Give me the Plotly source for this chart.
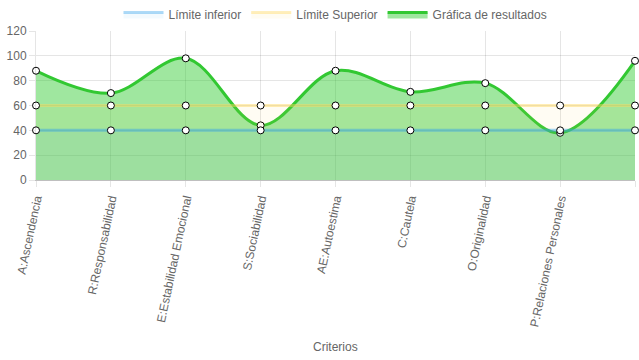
import plotly.graph_objects as go

categories = ["A:Ascendencia", "R:Responsabilidad", "E:Estabilidad Emocional", "S:Sociabilidad",
              "AE:Autoestima", "C:Cautela", "O:Originalidad", "P:Relaciones Personales", "V:Vigor"]
lower_limit = [40, 40, 40, 40, 40, 40, 40, 40, 40]
upper_limit = [60, 60, 60, 60, 60, 60, 60, 60, 60]
results = [88, 70, 98, 44, 88, 71, 78, 38, 96]

x_idx = list(range(len(categories)))
marker = dict(size=7, color="white", line=dict(color="black", width=1))

GREEN_LINE = "rgb(50,200,50)"
GREEN_FILL = "rgba(50,205,50,0.47)"
YEL_LINE = "rgba(255,215,90,0.45)"
YEL_FILL = "rgba(255,215,90,0.07)"
BLUE_LINE = "rgba(54,162,235,0.45)"
BLUE_FILL = "rgba(54,162,235,0.07)"

fig = go.Figure()
fig.add_trace(go.Scatter(
    x=x_idx, y=results, name="Gráfica de resultados", mode="lines+markers",
    line=dict(color=GREEN_LINE, width=3, shape="spline", smoothing=1.0),
    fill="tozeroy", fillcolor=GREEN_FILL, marker=marker, showlegend=False, cliponaxis=False))
fig.add_trace(go.Scatter(
    x=x_idx, y=upper_limit, name="Límite Superior", mode="lines+markers",
    line=dict(color=YEL_LINE, width=3),
    fill="tozeroy", fillcolor=YEL_FILL, marker=marker, showlegend=False, cliponaxis=False))
fig.add_trace(go.Scatter(
    x=x_idx, y=lower_limit, name="Límite inferior", mode="lines+markers",
    line=dict(color=BLUE_LINE, width=3),
    fill="tozeroy", fillcolor=BLUE_FILL, marker=marker, showlegend=False, cliponaxis=False))

# legend entries (box style)
for name, lc, fc, rank in [("Límite inferior", "rgba(54,162,235,0.4)", "rgba(54,162,235,0.06)", 1),
                           ("Límite Superior", "rgba(255,215,90,0.4)", "rgba(255,215,90,0.08)", 2),
                           ("Gráfica de resultados", GREEN_LINE, GREEN_FILL, 3)]:
    fig.add_trace(go.Scatter(x=[None], y=[None], name=name, mode="lines", fill="toself",
                             line=dict(color=lc, width=3), fillcolor=fc, legendrank=rank))

fig.update_layout(
    width=639, height=360,
    margin=dict(l=36, r=4, t=31, b=180, autoexpand=False),
    paper_bgcolor="white", plot_bgcolor="white",
    font=dict(family="Liberation Sans, Arial, sans-serif", size=12, color="#666"),
    legend=dict(orientation="h", x=0.5, xanchor="center", y=1.0, yanchor="top",
                yref="container", font=dict(size=12, color="#666"),
                bgcolor="rgba(0,0,0,0)", itemwidth=40),
    showlegend=True,
    annotations=[dict(text="Criterios", xref="paper", x=0.5, yref="paper", y=-1.121,
                      yanchor="middle", showarrow=False, font=dict(size=12, color="#666"))],
)
fig.update_xaxes(
    range=[0, 8], tickmode="array", tickvals=x_idx, ticktext=categories, tickangle=-78,
    automargin=False,
    showgrid=True, gridcolor="rgba(0,0,0,0.1)", gridwidth=1,
    ticks="outside", ticklen=6, tickcolor="rgba(0,0,0,0.1)",
    showline=True, linecolor="rgba(0,0,0,0.25)", zeroline=False,
    tickfont=dict(size=12, color="#666"))
fig.update_yaxes(
    range=[0, 120], dtick=20, showgrid=True, gridcolor="rgba(0,0,0,0.1)",
    automargin=False,
    ticks="outside", ticklen=6, tickcolor="rgba(0,0,0,0.1)",
    showline=True, linecolor="rgba(0,0,0,0.1)", zeroline=False,
    tickfont=dict(size=12, color="#666"))

fig.write_html("out.html", config={"displayModeBar": False},
               post_script="document.body.style.margin='0';")
